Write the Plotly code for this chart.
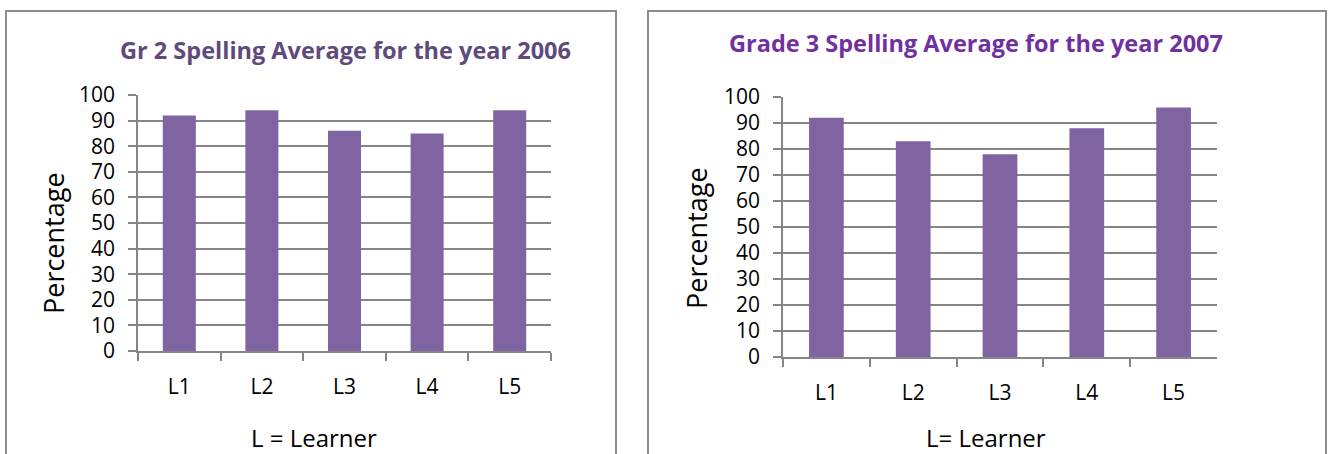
import plotly.graph_objects as go

# Spelling averages per learner
learners = ["L1", "L2", "L3", "L4", "L5"]
gr2_2006 = [92, 94, 86, 85, 94]
gr3_2007 = [92, 83, 78, 88, 96]
y_ticks = [0, 10, 20, 30, 40, 50, 60, 70, 80, 90, 100]

title_left = "Gr 2 Spelling Average for the year 2006"
title_right = "Grade 3 Spelling Average for the year 2007"
xlabel_left = "L = Learner"
xlabel_right = "L= Learner"
ylabel = "Percentage"

W, H = 1331, 454
BAR = "#8064a2"
GRID = "#868686"
FONT = "Open Sans"


def px(x):
    return x / W


def py(y):
    return 1 - y / H


fig = go.Figure()
fig.add_trace(go.Bar(x=learners, y=gr2_2006, marker_color=BAR, marker_line_width=0,
                     width=0.4, xaxis="x", yaxis="y", showlegend=False))
fig.add_trace(go.Bar(x=learners, y=gr3_2007, marker_color=BAR, marker_line_width=0,
                     width=0.4, xaxis="x2", yaxis="y2", showlegend=False))

xcommon = dict(type="category", automargin=False, showline=True, linecolor=GRID,
               linewidth=1.5, ticks="outside", tickson="boundaries", ticklen=8,
               tickcolor=GRID, tickwidth=1.5, showgrid=False, zeroline=False,
               ticklabelstandoff=16,
               tickfont=dict(family=FONT, size=21, color="#000"))
ycommon = dict(range=[0, 100], tickvals=y_ticks, automargin=False, showline=True,
               linecolor=GRID, linewidth=1.5, ticks="outside", ticklen=8,
               tickcolor=GRID, tickwidth=1.5, showgrid=True, gridcolor=GRID,
               gridwidth=1.5, zeroline=False, ticklabelstandoff=9,
               tickfont=dict(family=FONT, size=21, color="#000"))

fig.update_layout(
    template="none",
    width=W, height=H,
    margin=dict(l=0, r=0, t=0, b=0, autoexpand=False),
    paper_bgcolor="white", plot_bgcolor="white",
    xaxis=dict(xcommon, domain=[px(138), px(551)], anchor="y"),
    yaxis=dict(ycommon, domain=[py(351), py(95)], anchor="x"),
    xaxis2=dict(xcommon, domain=[px(783), px(1217)], anchor="y2"),
    yaxis2=dict(ycommon, domain=[py(357), py(97)], anchor="x2"),
)

# Chart titles
fig.add_annotation(text="<b>" + title_left + "</b>", x=px(345), y=py(50), xref="paper",
                   yref="paper", showarrow=False, xanchor="center", yanchor="middle",
                   font=dict(family=FONT, size=23.5, color="#604a7b"))
fig.add_annotation(text="<b>" + title_right + "</b>", x=px(976), y=py(43), xref="paper",
                   yref="paper", showarrow=False, xanchor="center", yanchor="middle",
                   font=dict(family=FONT, size=23.5, color="#7030a0"))

# Axis titles
for text, x, y, angle, size in [(xlabel_left, 314, 437, 0, 24),
                                (xlabel_right, 986, 437, 0, 24),
                                (ylabel, 53, 243, -90, 27),
                                (ylabel, 697, 238, -90, 27)]:
    fig.add_annotation(text=text, x=px(x), y=py(y), xref="paper", yref="paper",
                       showarrow=False, xanchor="center", yanchor="middle",
                       textangle=angle, font=dict(family=FONT, size=size, color="#000"))

# Chart frames (bottom edge runs below the page)
for x0, x1 in [(6, 616), (648, 1326)]:
    fig.add_shape(type="path", xref="paper", yref="paper",
                  path=f"M {px(x0)},0 L {px(x0)},{py(11)} L {px(x1)},{py(11)} L {px(x1)},0",
                  line=dict(color="#8c8c8c", width=2))

fig.write_html("out.html")
